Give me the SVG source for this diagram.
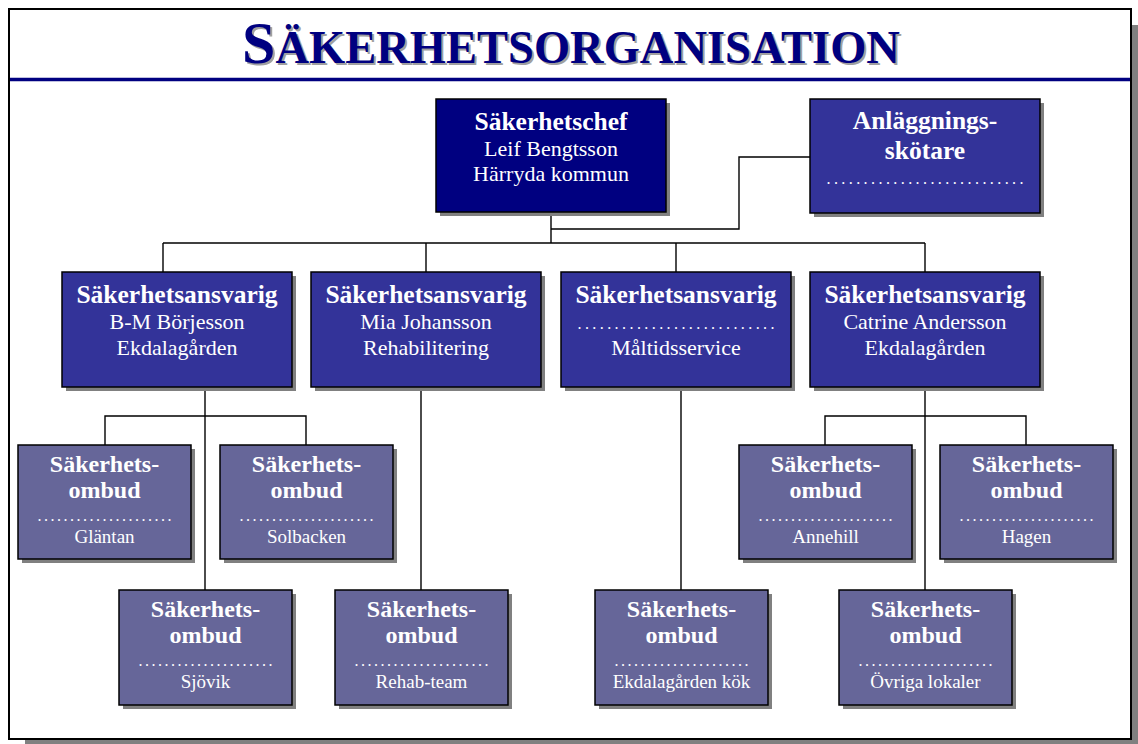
<svg xmlns="http://www.w3.org/2000/svg" width="1138" height="744" viewBox="0 0 1138 744">
<style>
.sh{fill:#808080}
.b0{fill:#000080;stroke:#000;stroke-width:1.5}
.b1{fill:#333399;stroke:#000;stroke-width:1.5}
.b2{fill:#666699;stroke:#000;stroke-width:1.5}
text{font-family:"Liberation Serif","Times New Roman",serif;fill:#fff;text-anchor:middle}
.h{font-weight:bold;font-size:25.5px}
.r{font-size:22px}
.hs{font-weight:bold;font-size:24px}
.rs{font-size:19px}
.d{font-size:16px}
.con{stroke:#000;stroke-width:1.4;fill:none}
</style>
<rect x="0" y="0" width="1138" height="744" fill="#fff"/>
<rect x="25" y="25" width="1113" height="719" class="sh"/>
<rect x="9" y="9" width="1122" height="730" fill="#fff" stroke="#000" stroke-width="2"/>
<line x1="10" y1="79.5" x2="1130" y2="79.5" stroke="#000080" stroke-width="3.5"/>
<g id="title" font-weight="bold">
<text x="573" y="65" style="fill:#a0a0a0;font-weight:bold"><tspan font-size="60">S</tspan><tspan font-size="46.5">ÄKERHETSORGANISATION</tspan></text>
<text x="571" y="63" style="fill:#000080;font-weight:bold"><tspan font-size="60">S</tspan><tspan font-size="46.5">ÄKERHETSORGANISATION</tspan></text>
</g>
<g id="connectors" class="con">
<polyline points="551,213 551,243"/>
<polyline points="810,157 739,157 739,229 551,229"/>
<polyline points="163,243 925,243"/>
<polyline points="163,243 163,272"/>
<polyline points="426,243 426,272"/>
<polyline points="676,243 676,272"/>
<polyline points="925,243 925,272"/>
<polyline points="205,388 205,590"/>
<polyline points="105,445 105,416 306,416 306,445"/>
<polyline points="421,388 421,590"/>
<polyline points="681,388 681,590"/>
<polyline points="925,388 925,590"/>
<polyline points="825,445 825,416 1026,416 1026,445"/>
</g>
<g id="chef">
<rect x="440" y="103" width="230" height="113" class="sh"/>
<rect x="436" y="99" width="230" height="113" class="b0"/>
<text x="551" y="130" class="h">Säkerhetschef</text>
<text x="551" y="156" class="r">Leif Bengtsson</text>
<text x="551" y="181" class="r">Härryda kommun</text>
</g>
<g id="anlaggning">
<rect x="814" y="103" width="230" height="114" class="sh"/>
<rect x="810" y="99" width="230" height="114" class="b1"/>
<text x="925" y="129" class="h">Anläggnings-</text>
<text x="925" y="159" class="h">skötare</text>
<text x="925" y="184" class="d" textLength="197" lengthAdjust="spacing">...........................</text>
</g>
<g id="ansv1">
<rect x="66" y="276" width="230" height="115" class="sh"/>
<rect x="62" y="272" width="230" height="115" class="b1"/>
<text x="177" y="303" class="h">Säkerhetsansvarig</text>
<text x="177" y="329" class="r">B-M Börjesson</text>
<text x="177" y="355" class="r">Ekdalagården</text>
</g>
<g id="ansv2">
<rect x="315" y="276" width="230" height="115" class="sh"/>
<rect x="311" y="272" width="230" height="115" class="b1"/>
<text x="426" y="303" class="h">Säkerhetsansvarig</text>
<text x="426" y="329" class="r">Mia Johansson</text>
<text x="426" y="355" class="r">Rehabilitering</text>
</g>
<g id="ansv3">
<rect x="565" y="276" width="230" height="115" class="sh"/>
<rect x="561" y="272" width="230" height="115" class="b1"/>
<text x="676" y="303" class="h">Säkerhetsansvarig</text>
<text x="676" y="329" class="d" textLength="197" lengthAdjust="spacing">...........................</text>
<text x="676" y="355" class="r">Måltidsservice</text>
</g>
<g id="ansv4">
<rect x="814" y="276" width="230" height="115" class="sh"/>
<rect x="810" y="272" width="230" height="115" class="b1"/>
<text x="925" y="303" class="h">Säkerhetsansvarig</text>
<text x="925" y="329" class="r">Catrine Andersson</text>
<text x="925" y="355" class="r">Ekdalagården</text>
</g>
<g id="glantan">
<rect x="22" y="449" width="173" height="114" class="sh"/>
<rect x="18" y="445" width="173" height="114" class="b2"/>
<text x="104.5" y="472" class="hs">Säkerhets-</text>
<text x="104.5" y="498" class="hs">ombud</text>
<text x="104.5" y="521" class="d" textLength="134" lengthAdjust="spacing">.....................</text>
<text x="104.5" y="543" class="rs">Gläntan</text>
</g>
<g id="solbacken">
<rect x="224" y="449" width="173" height="114" class="sh"/>
<rect x="220" y="445" width="173" height="114" class="b2"/>
<text x="306.5" y="472" class="hs">Säkerhets-</text>
<text x="306.5" y="498" class="hs">ombud</text>
<text x="306.5" y="521" class="d" textLength="134" lengthAdjust="spacing">.....................</text>
<text x="306.5" y="543" class="rs">Solbacken</text>
</g>
<g id="annehill">
<rect x="743" y="449" width="173" height="114" class="sh"/>
<rect x="739" y="445" width="173" height="114" class="b2"/>
<text x="825.5" y="472" class="hs">Säkerhets-</text>
<text x="825.5" y="498" class="hs">ombud</text>
<text x="825.5" y="521" class="d" textLength="134" lengthAdjust="spacing">.....................</text>
<text x="825.5" y="543" class="rs">Annehill</text>
</g>
<g id="hagen">
<rect x="944" y="449" width="173" height="114" class="sh"/>
<rect x="940" y="445" width="173" height="114" class="b2"/>
<text x="1026.5" y="472" class="hs">Säkerhets-</text>
<text x="1026.5" y="498" class="hs">ombud</text>
<text x="1026.5" y="521" class="d" textLength="134" lengthAdjust="spacing">.....................</text>
<text x="1026.5" y="543" class="rs">Hagen</text>
</g>
<g id="sjovik">
<rect x="123" y="594" width="173" height="115" class="sh"/>
<rect x="119" y="590" width="173" height="115" class="b2"/>
<text x="205.5" y="617" class="hs">Säkerhets-</text>
<text x="205.5" y="643" class="hs">ombud</text>
<text x="205.5" y="666" class="d" textLength="134" lengthAdjust="spacing">.....................</text>
<text x="205.5" y="688" class="rs">Sjövik</text>
</g>
<g id="rehabteam">
<rect x="339" y="594" width="173" height="115" class="sh"/>
<rect x="335" y="590" width="173" height="115" class="b2"/>
<text x="421.5" y="617" class="hs">Säkerhets-</text>
<text x="421.5" y="643" class="hs">ombud</text>
<text x="421.5" y="666" class="d" textLength="134" lengthAdjust="spacing">.....................</text>
<text x="421.5" y="688" class="rs">Rehab-team</text>
</g>
<g id="kok">
<rect x="599" y="594" width="173" height="115" class="sh"/>
<rect x="595" y="590" width="173" height="115" class="b2"/>
<text x="681.5" y="617" class="hs">Säkerhets-</text>
<text x="681.5" y="643" class="hs">ombud</text>
<text x="681.5" y="666" class="d" textLength="134" lengthAdjust="spacing">.....................</text>
<text x="681.5" y="688" class="rs">Ekdalagården kök</text>
</g>
<g id="ovriga">
<rect x="843" y="594" width="173" height="115" class="sh"/>
<rect x="839" y="590" width="173" height="115" class="b2"/>
<text x="925.5" y="617" class="hs">Säkerhets-</text>
<text x="925.5" y="643" class="hs">ombud</text>
<text x="925.5" y="666" class="d" textLength="134" lengthAdjust="spacing">.....................</text>
<text x="925.5" y="688" class="rs">Övriga lokaler</text>
</g>
</svg>
